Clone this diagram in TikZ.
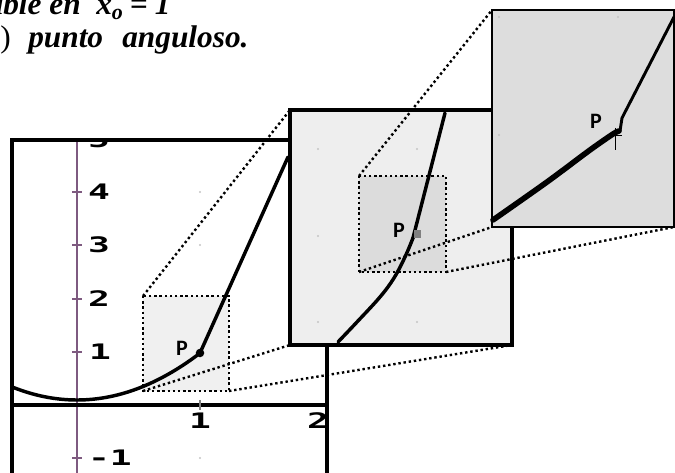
\documentclass[tikz,border=0pt]{standalone}
\usepackage{fontspec}
\setmainfont{Liberation Serif}
\newfontfamily\derive[FakeStretch=1.7]{DejaVu Sans Mono}
\newfontfamily\calib{Carlito}
\definecolor{axpurple}{HTML}{7E5A80}
\definecolor{fillA}{HTML}{F0F0F0}
\definecolor{fillB}{HTML}{EEEEEE}
\definecolor{fillC}{HTML}{DCDCDC}
\definecolor{fillD}{HTML}{DDDDDD}
\definecolor{griddot}{HTML}{C4C4C4}
\begin{document}
\begin{tikzpicture}[x=0.75pt,y=-0.75pt,
  frame/.style={line width=2.6pt},
  zoomline/.style={line width=1.8pt, dash pattern=on 1.8pt off 2.1pt},
  curve/.style={line width=2.6pt, line cap=round, line join=round},
  ticklab/.style={font=\derive\bfseries\fontsize{16}{16}\selectfont, inner sep=0pt},
  plab/.style={font=\calib\bfseries\fontsize{16.5}{16.5}\selectfont, inner sep=0pt},
  title/.style={font=\bfseries\itshape\fontsize{23.5}{23.5}\selectfont, inner sep=0pt},
  gdot/.style={fill=griddot, circle, inner sep=0pt, minimum size=1.8pt}]
\useasboundingbox (0,0) rectangle (675,473);
\clip (0,0) rectangle (675,473);

% title
\node[title, anchor=base east] (t1) at (81,15) {able en};
\node[title, anchor=base west] (t2) at (96,15) {x\textsubscript{o}\hspace{5pt}{\upshape =}\hspace{5pt}1};
\node[title, anchor=base east, font=\mdseries\upshape\fontsize{23.5}{23.5}\selectfont] (t3) at (11,48) {(b)};
\node[title, anchor=base west] (t4) at (28,48) {punto};
\node[title, anchor=base west] (t5) at (122,48) {anguloso.};

% main plot
\begin{scope}
\clip (12,140) rectangle (327,480);
\foreach \y in {192,245,299,352,458} \node[gdot] (g\y) at (200,\y) {};
\draw[axpurple, line width=1.3pt] (77,140) -- (77,473);
\foreach \y in {139,192,245,299,352,458} \draw[axpurple, line width=0.8pt] (72,\y) -- (82,\y);
\draw[line width=2.4pt] (12,405) -- (327,405);
\draw[gray, line width=0.8pt] (200,400) -- (200,410);
\node[ticklab] (l5) at (99,140) {5};
\node[ticklab] (l4) at (99,192) {4};
\node[ticklab] (l3) at (99,245) {3};
\node[ticklab] (l2) at (99,299) {2};
\node[ticklab] (l1) at (100,352) {1};
\node[ticklab] (lm1) at (110,458) {-1};
\node[ticklab] (x1) at (200,421) {1};
\node[ticklab] (x2) at (318,421) {2};
\fill[fillA] (143,296) rectangle (229,391);
\draw[curve] plot[domain=12:200, samples=60] (\x, {400-0.0031*(\x-77)^2});
\draw[curve] (200,353) -- (288,157);
\fill (200,353) circle (3.2pt);
\node[plab] (p1) at (182,348) {P};
\end{scope}
\draw[frame] (12,473) -- (12,140) -- (290,140);
\draw[frame] (327,345) -- (327,473);

% first zoom
\draw[zoomline] (143,296) rectangle (229,391);
\draw[zoomline] (143,296) -- (290,110);
\draw[zoomline] (143,391) -- (290,345);
\draw[zoomline] (229,391) -- (512,345);

\filldraw[fill=fillB, frame] (290,110) rectangle (512,345);
\foreach \x/\y in {318/149,417/149,318/236,318/322,417/322} \node[gdot] (m\x\y) at (\x,\y) {};
\fill[fillC] (359,176) rectangle (446,272);
\draw[curve] plot[smooth, tension=0.6] coordinates {(338,342) (357,322) (380,297) (394,278) (405,257) (413,238)};
\draw[curve] (413,238) -- (445,113);
\fill[gray] (414,230) rectangle (421,238);
\node[plab] (p2) at (399,230) {P};
\draw[zoomline] (359,176) rectangle (446,272);
\draw[zoomline] (359,176) -- (492,10);
\draw[zoomline] (359,272) -- (492,227);
\draw[zoomline] (446,272) -- (674,227);

% second zoom
\filldraw[fill=fillD, line width=1.8pt] (492,10) rectangle (674,227);
\foreach \x/\y in {499/17,618/17,499/135} \node[gdot] (b\x\y) at (\x,\y) {};
\draw[line width=4.2pt, line cap=round] plot[smooth, tension=0.5] coordinates {(493,220) (547,182) (590,150) (613,134) (619,131)};
\draw[line width=2.2pt, line cap=round, line join=round] (620,131) -- (622,118) -- (674,17);
\draw[line width=0.7pt] (615,128) -- (615,150);
\draw[line width=0.7pt] (609,135) -- (622,135);
\node[plab] (p3) at (596,121) {P};
\end{tikzpicture}
\end{document}
